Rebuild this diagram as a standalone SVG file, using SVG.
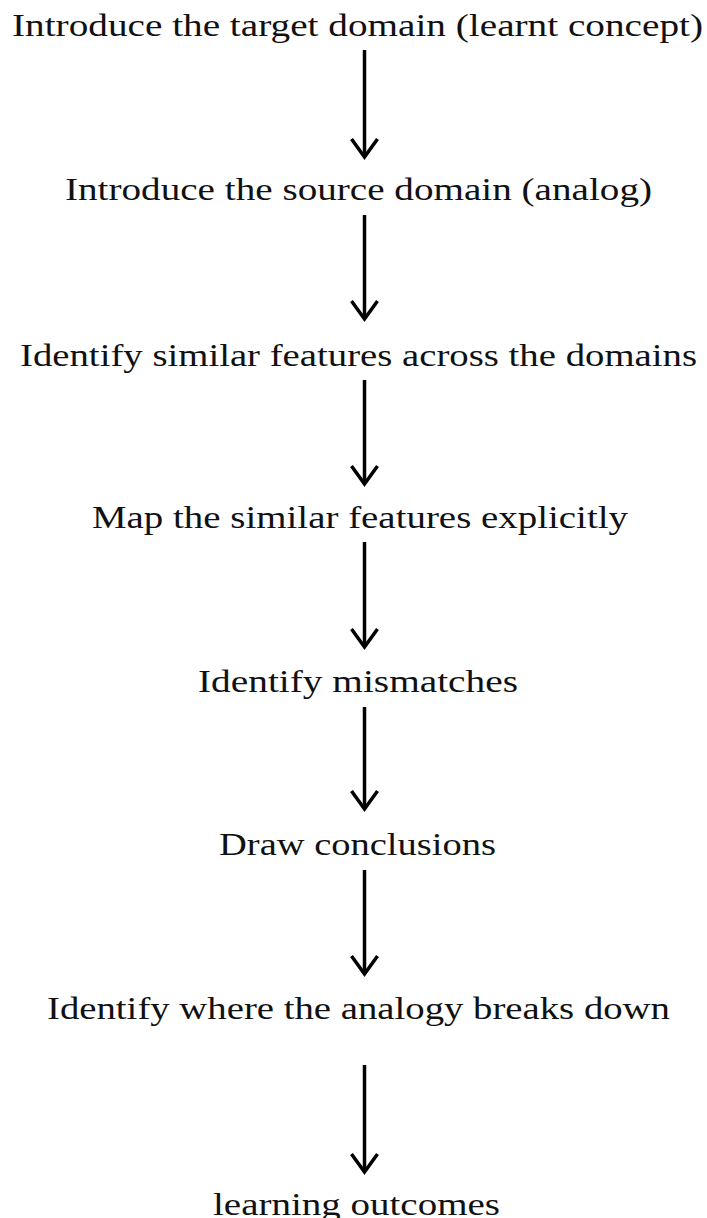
<svg xmlns="http://www.w3.org/2000/svg" width="707" height="1218" viewBox="0 0 707 1218">
<style>
.t{font-family:"Liberation Serif","Times New Roman",serif;font-size:31px;fill:#111;}
.c line,.c polyline{stroke:#000;stroke-width:3.5;fill:none;}
</style>
<rect width="707" height="1218" fill="#fff"/>
<g id="n1"><text class="t" x="12" y="36" textLength="691" lengthAdjust="spacingAndGlyphs">Introduce the target domain (learnt concept)</text></g>
<g id="n2"><text class="t" x="65" y="200" textLength="587" lengthAdjust="spacingAndGlyphs">Introduce the source domain (analog)</text></g>
<g id="n3"><text class="t" x="20" y="366" textLength="677" lengthAdjust="spacingAndGlyphs">Identify similar features across the domains</text></g>
<g id="n4"><text class="t" x="92" y="528" textLength="536" lengthAdjust="spacingAndGlyphs">Map the similar features explicitly</text></g>
<g id="n5"><text class="t" x="198" y="692" textLength="320" lengthAdjust="spacingAndGlyphs">Identify mismatches</text></g>
<g id="n6"><text class="t" x="219" y="855" textLength="277" lengthAdjust="spacingAndGlyphs">Draw conclusions</text></g>
<g id="n7"><text class="t" x="47" y="1019" textLength="623" lengthAdjust="spacingAndGlyphs">Identify where the analogy breaks down</text></g>
<g id="n8"><text class="t" x="213" y="1215" textLength="287" lengthAdjust="spacingAndGlyphs">learning outcomes</text></g>
<g id="connectors" class="c">
<line x1="364.5" y1="50" x2="364.5" y2="156"/><polyline points="351.5,139 364.5,157 377.5,139"/>
<line x1="364.5" y1="215" x2="364.5" y2="318"/><polyline points="351.5,301 364.5,319 377.5,301"/>
<line x1="364.5" y1="380" x2="364.5" y2="483"/><polyline points="351.5,466 364.5,484 377.5,466"/>
<line x1="364.5" y1="542" x2="364.5" y2="646"/><polyline points="351.5,629 364.5,647 377.5,629"/>
<line x1="364.5" y1="707" x2="364.5" y2="808"/><polyline points="351.5,791 364.5,809 377.5,791"/>
<line x1="364.5" y1="870" x2="364.5" y2="973"/><polyline points="351.5,956 364.5,974 377.5,956"/>
<line x1="364.5" y1="1065" x2="364.5" y2="1171"/><polyline points="351.5,1154 364.5,1172 377.5,1154"/>
</g>
</svg>
